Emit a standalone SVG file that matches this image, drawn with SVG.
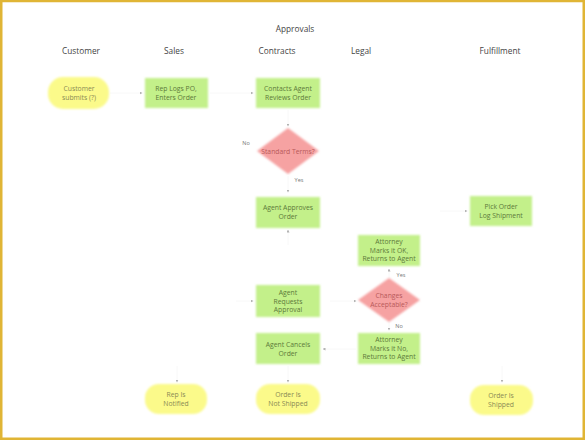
<svg xmlns="http://www.w3.org/2000/svg" width="585" height="440" viewBox="0 0 585 440">
<defs>
<style>
.hdr{font-family:"Open Sans","Liberation Sans",sans-serif;font-size:8.3px;fill:#444;text-anchor:middle}
.t{font-family:"Open Sans","Liberation Sans",sans-serif;font-size:6.8px;text-anchor:middle}
.ty{fill:#8a8a55}
.tg{fill:#5d7a3a}
.tr{fill:#b85a5a}
.lbl{font-family:"Open Sans","Liberation Sans",sans-serif;font-size:5.5px;fill:#777;text-anchor:middle}
.term{fill:#fbfa8a}
.proc{fill:#c3f08a}
.dec{fill:#f6a2a2}
.c{stroke:#f8f8f8;stroke-width:1;fill:none;marker-end:url(#ah)}
</style>
<marker id="ah" viewBox="0 0 6 6" refX="5" refY="3" markerWidth="3" markerHeight="3" orient="auto">
<path d="M0,0 L6,3 L0,6 z" fill="#b0b0b0"/>
</marker>
<filter id="soft" x="-20%" y="-20%" width="140%" height="140%"><feGaussianBlur stdDeviation="0.8"/></filter>
</defs>
<rect x="0" y="0" width="585" height="440" fill="#ffffff"/>
<rect x="1.25" y="1" width="582.5" height="437.75" fill="none" stroke="#e0b535" stroke-width="2.5"/>

<text class="hdr" x="295" y="32">Approvals</text>
<text class="hdr" x="81" y="54">Customer</text>
<text class="hdr" x="174" y="54">Sales</text>
<text class="hdr" x="277" y="54">Contracts</text>
<text class="hdr" x="361" y="54">Legal</text>
<text class="hdr" x="500" y="54">Fulfillment</text>

<g id="connectors">
<line class="c" x1="110" y1="93" x2="142" y2="93"/>
<line class="c" x1="210" y1="93" x2="253" y2="93"/>
<line class="c" x1="288" y1="110" x2="288" y2="126"/>
<line class="c" x1="288" y1="176" x2="288" y2="192"/>
<line class="c" x1="288" y1="245" x2="288" y2="230"/>
<line class="c" x1="440" y1="211" x2="467" y2="211"/>
<line class="c" x1="389" y1="278" x2="389" y2="269"/>
<line class="c" x1="330" y1="301" x2="356" y2="301"/>
<line class="c" x1="236" y1="301" x2="253" y2="301"/>
<line class="c" x1="389" y1="322" x2="389" y2="330"/>
<line class="c" x1="356" y1="349" x2="323" y2="349"/>
<line class="c" x1="288" y1="366" x2="288" y2="382"/>
<line class="c" x1="177" y1="366" x2="177" y2="382"/>
<line class="c" x1="502" y1="366" x2="502" y2="382"/>
<text class="lbl" x="246" y="145">No</text>
<text class="lbl" x="299" y="182">Yes</text>
<text class="lbl" x="401" y="277">Yes</text>
<text class="lbl" x="399" y="328">No</text>
</g>

<g id="customer-submits">
<rect x="48" y="77" width="61" height="32" rx="15" class="term" filter="url(#soft)"/>
<text class="t ty" x="79" y="91">Customer</text>
<text class="t ty" x="79" y="100">submits (?)</text>
</g>
<g id="rep-logs-po">
<rect x="145" y="78" width="63" height="30" class="proc" filter="url(#soft)"/>
<text class="t tg" x="176" y="91">Rep Logs PO,</text>
<text class="t tg" x="176" y="100">Enters Order</text>
</g>
<g id="contacts-agent">
<rect x="256" y="78" width="64" height="30" class="proc" filter="url(#soft)"/>
<text class="t tg" x="288" y="91">Contacts Agent</text>
<text class="t tg" x="288" y="100">Reviews Order</text>
</g>
<g id="standard-terms">
<polygon points="288,128 319,151 288,174 257,151" class="dec" filter="url(#soft)"/>
<text class="t tr" x="288" y="154">Standard Terms?</text>
</g>
<g id="agent-approves">
<rect x="256" y="197" width="64" height="31" class="proc" filter="url(#soft)"/>
<text class="t tg" x="288" y="210">Agent Approves</text>
<text class="t tg" x="288" y="219">Order</text>
</g>
<g id="pick-order">
<rect x="470" y="196" width="62" height="30" class="proc" filter="url(#soft)"/>
<text class="t tg" x="501" y="209">Pick Order</text>
<text class="t tg" x="501" y="218">Log Shipment</text>
</g>
<g id="attorney-ok">
<rect x="358" y="235" width="62" height="31" class="proc" filter="url(#soft)"/>
<text class="t tg" x="389" y="244">Attorney</text>
<text class="t tg" x="389" y="252.5">Marks it OK,</text>
<text class="t tg" x="389" y="261">Returns to Agent</text>
</g>
<g id="changes-acceptable">
<polygon points="389,278 420,300 389,322 358,300" class="dec" filter="url(#soft)"/>
<text class="t tr" x="389" y="298">Changes</text>
<text class="t tr" x="389" y="307">Acceptable?</text>
</g>
<g id="agent-requests">
<rect x="256" y="285" width="64" height="32" class="proc" filter="url(#soft)"/>
<text class="t tg" x="288" y="295">Agent</text>
<text class="t tg" x="288" y="303.5">Requests</text>
<text class="t tg" x="288" y="312">Approval</text>
</g>
<g id="agent-cancels">
<rect x="256" y="333" width="64" height="31" class="proc" filter="url(#soft)"/>
<text class="t tg" x="288" y="347">Agent Cancels</text>
<text class="t tg" x="288" y="356">Order</text>
</g>
<g id="attorney-no">
<rect x="358" y="333" width="62" height="31" class="proc" filter="url(#soft)"/>
<text class="t tg" x="389" y="342">Attorney</text>
<text class="t tg" x="389" y="350.5">Marks it No,</text>
<text class="t tg" x="389" y="359">Returns to Agent</text>
</g>
<g id="rep-notified">
<rect x="145" y="384" width="62" height="30" rx="14" class="term" filter="url(#soft)"/>
<text class="t ty" x="176" y="397">Rep Is</text>
<text class="t ty" x="176" y="406">Notified</text>
</g>
<g id="order-not-shipped">
<rect x="256" y="384" width="64" height="30" rx="14" class="term" filter="url(#soft)"/>
<text class="t ty" x="288" y="397">Order Is</text>
<text class="t ty" x="288" y="406">Not Shipped</text>
</g>
<g id="order-shipped">
<rect x="470" y="385" width="63" height="30" rx="14" class="term" filter="url(#soft)"/>
<text class="t ty" x="501" y="398">Order Is</text>
<text class="t ty" x="501" y="407">Shipped</text>
</g>
</svg>
